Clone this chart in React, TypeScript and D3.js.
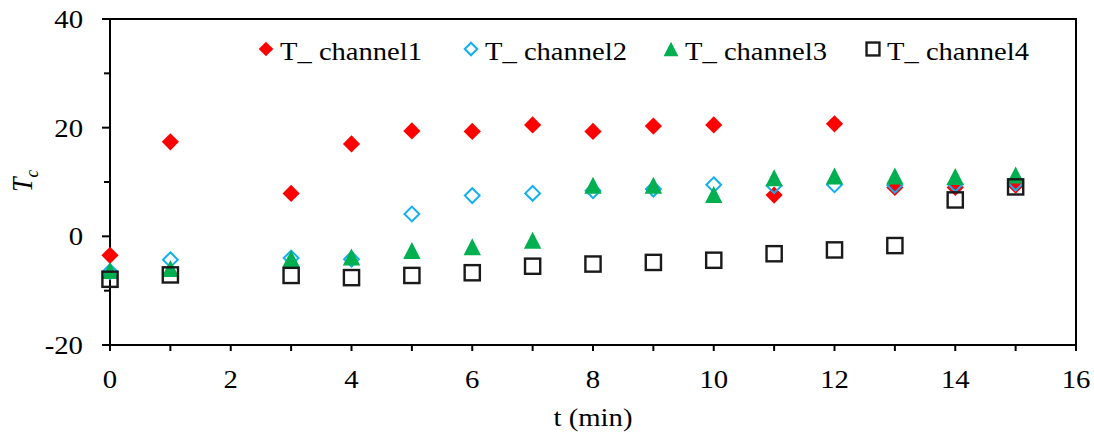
import React from "react";
import * as d3 from "d3";

// Sampling times (min)
const times = [0, 1, 3, 4, 5, 6, 7, 8, 9, 10, 11, 12, 13, 14, 15];
// Channel temperatures T_c at each time
const channel1 = [-3.5, 17.4, 7.9, 17.0, 19.4, 19.3, 20.5, 19.3, 20.3, 20.5, 7.6, 20.7, 9.0, 9.0, 9.4];
const channel2 = [-6.5, -4.3, -4.0, -4.2, 4.1, 7.5, 7.9, 8.4, 8.7, 9.5, 9.3, 9.5, 9.4, 9.6, 9.8];
const channel3 = [-6.3, -5.9, -4.1, -3.8, -2.6, -1.9, -0.7, 9.4, 9.4, 7.7, 10.8, 11.1, 11.1, 11.0, 11.3];
const channel4 = [-7.9, -7.1, -7.2, -7.6, -7.2, -6.7, -5.5, -5.1, -4.8, -4.4, -3.2, -2.5, -1.7, 6.7, 9.1];
const seriesNames = ["T_ channel1", "T_ channel2", "T_ channel3", "T_ channel4"];

const xTicks = d3.range(0, 17, 1);
const xLabels = d3.range(0, 17, 2);
const yTicks = d3.range(-20, 41, 10);
const yLabels = d3.range(-20, 41, 20);

const W = 1094;
const H = 439;
const M = { left: 110, right: 1076, top: 19, bottom: 345 };
const FONT = "'Liberation Serif', 'Times New Roman', serif";
const STRETCH = 1.15;

type Shape = "diamond" | "openDiamond" | "triangle" | "square";

function Marker({ shape, x, y, s = 1 }: { shape: Shape; x: number; y: number; s?: number }) {
  if (shape === "diamond") {
    const h = 8.6 * s;
    return <path d={`M${x},${y - h}L${x + h},${y}L${x},${y + h}L${x - h},${y}Z`} fill="#ff0000" />;
  }
  if (shape === "openDiamond") {
    const h = 7.4 * s;
    return (
      <path d={`M${x},${y - h}L${x + h},${y}L${x},${y + h}L${x - h},${y}Z`} fill="none" stroke="#12b0f0" strokeWidth={2} />
    );
  }
  if (shape === "triangle") {
    const w = 8.7 * s;
    const h = 8.5 * s;
    return <path d={`M${x},${y - h}L${x + w},${y + h}L${x - w},${y + h}Z`} fill="#00b050" />;
  }
  const a = 7.6 * s;
  return <rect x={x - a} y={y - a} width={2 * a} height={2 * a} fill="none" stroke="#1a1a1a" strokeWidth={2.4} />;
}

function SText({ x, y, anchor = "start", children, size = 25 }: any) {
  return (
    <text
      transform={`translate(${x},${y}) scale(${STRETCH},1)`}
      textAnchor={anchor}
      fontFamily={FONT}
      fontSize={size}
      fill="#000"
    >
      {children}
    </text>
  );
}

export default function App() {
  const x = d3.scaleLinear().domain([0, 16]).range([M.left, M.right]);
  const y = d3.scaleLinear().domain([-20, 40]).range([M.bottom, M.top]);

  const series: { values: number[]; shape: Shape }[] = [
    { values: channel1, shape: "diamond" },
    { values: channel2, shape: "openDiamond" },
    { values: channel3, shape: "triangle" },
    { values: channel4, shape: "square" },
  ];

  const legendX = [266, 471, 671, 873];

  return (
    <svg width={W} height={H} style={{ position: "absolute", left: 0, top: 0, background: "#fff" }}>
      {/* plot frame */}
      <rect x={M.left} y={M.top} width={M.right - M.left} height={M.bottom - M.top} fill="none" stroke="#000" strokeWidth={2} />

      {/* y ticks and labels */}
      {yTicks.map((v) => (
        <line key={`yt${v}`} x1={M.left - (v % 20 === 0 ? 8 : 6)} x2={M.left} y1={y(v)} y2={y(v)} stroke="#000" strokeWidth={2} />
      ))}
      {yLabels.map((v) => (
        <SText key={`yl${v}`} x={83} y={y(v) + 9} anchor="end">
          {v}
        </SText>
      ))}

      {/* x ticks and labels */}
      {xTicks.map((v) => (
        <line key={`xt${v}`} x1={x(v)} x2={x(v)} y1={M.bottom} y2={M.bottom + 6} stroke="#000" strokeWidth={2} />
      ))}
      {xLabels.map((v) => (
        <SText key={`xl${v}`} x={x(v)} y={388} anchor="middle">
          {v}
        </SText>
      ))}

      {/* axis titles */}
      <SText x={(M.left + M.right) / 2} y={426} anchor="middle">
        t (min)
      </SText>
      <text
        transform={`translate(32,192) scale(${STRETCH},1) rotate(-90)`}
        fontFamily={FONT}
        fontSize={26}
        fontStyle="italic"
      >
        T
        <tspan fontSize={17} dy={5}>
          c
        </tspan>
      </text>

      {/* data markers, later channels drawn on top */}
      {series.map((s, i) => (
        <g key={`s${i}`}>
          {s.values.map((v, j) => (
            <Marker key={j} shape={s.shape} x={x(times[j])} y={y(v)} />
          ))}
        </g>
      ))}

      {/* legend */}
      {series.map((s, i) => (
        <g key={`lg${i}`}>
          <Marker shape={s.shape} x={legendX[i]} y={49} s={0.85} />
          <text
            x={legendX[i] + 14}
            y={60}
            fontFamily={FONT}
            fontSize={25}
            textLength={142}
            lengthAdjust="spacingAndGlyphs"
          >
            {seriesNames[i]}
          </text>
        </g>
      ))}
    </svg>
  );
}
